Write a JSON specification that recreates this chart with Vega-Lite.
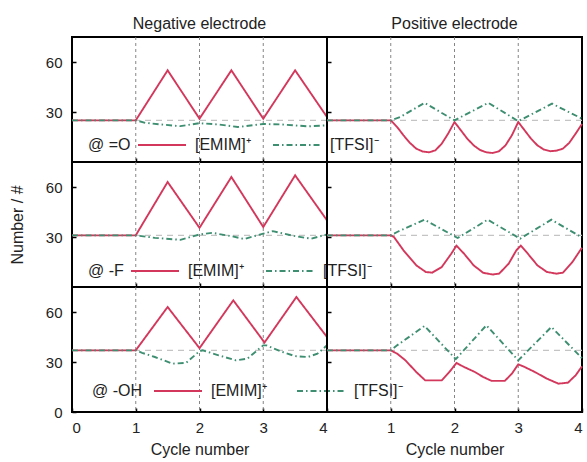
{
"$schema": "https://vega.github.io/schema/vega-lite/v6.json",
"padding": {"left": 8, "top": 14, "right": 2, "bottom": 2},
"config": {
  "font": "Liberation Sans",
  "view": {"stroke": "black", "strokeWidth": 2},
  "axis": {"labelFontSize": 15, "titleFontSize": 16, "titleFontWeight": "normal", "labelColor": "#222", "titleColor": "#222", "domain": false, "grid": false, "tickColor": "black", "tickWidth": 1.5},
  "title": {"fontSize": 16, "fontWeight": "normal", "color": "#222", "offset": 5},
  "legend": {"orient": "none", "direction": "horizontal", "titleOrient": "left", "titleAnchor": "middle", "symbolType": "stroke", "symbolSize": 2300, "symbolStrokeWidth": 2, "labelOffset": 8, "columnPadding": 18, "titlePadding": 6, "labelFontSize": 16, "titleFontSize": 16, "titleFontWeight": "normal", "labelColor": "#222", "titleColor": "#222", "titleBaseline": "top"}
},
"datasets": {
  "cycles": [{"c": 1}, {"c": 2}, {"c": 3}],
  "base": [{"g": "=O", "y": 25}, {"g": "-F", "y": 31}, {"g": "-OH", "y": 37}],
  "s": [
    {"g": "=O", "e": "neg", "ion": "[EMIM]⁺", "x": 0, "y": 25}, {"g": "=O", "e": "neg", "ion": "[EMIM]⁺", "x": 1, "y": 25}, {"g": "=O", "e": "neg", "ion": "[EMIM]⁺", "x": 1.5, "y": 55}, {"g": "=O", "e": "neg", "ion": "[EMIM]⁺", "x": 2, "y": 26}, {"g": "=O", "e": "neg", "ion": "[EMIM]⁺", "x": 2.5, "y": 55}, {"g": "=O", "e": "neg", "ion": "[EMIM]⁺", "x": 3, "y": 26}, {"g": "=O", "e": "neg", "ion": "[EMIM]⁺", "x": 3.5, "y": 55}, {"g": "=O", "e": "neg", "ion": "[EMIM]⁺", "x": 4, "y": 27},
    {"g": "=O", "e": "neg", "ion": "[TFSI]⁻", "x": 0, "y": 25}, {"g": "=O", "e": "neg", "ion": "[TFSI]⁻", "x": 1, "y": 25}, {"g": "=O", "e": "neg", "ion": "[TFSI]⁻", "x": 1.15, "y": 23.5}, {"g": "=O", "e": "neg", "ion": "[TFSI]⁻", "x": 1.4, "y": 22.5}, {"g": "=O", "e": "neg", "ion": "[TFSI]⁻", "x": 1.7, "y": 21.5}, {"g": "=O", "e": "neg", "ion": "[TFSI]⁻", "x": 2, "y": 23.3}, {"g": "=O", "e": "neg", "ion": "[TFSI]⁻", "x": 2.3, "y": 22.5}, {"g": "=O", "e": "neg", "ion": "[TFSI]⁻", "x": 2.6, "y": 21}, {"g": "=O", "e": "neg", "ion": "[TFSI]⁻", "x": 3, "y": 22.8}, {"g": "=O", "e": "neg", "ion": "[TFSI]⁻", "x": 3.3, "y": 22.5}, {"g": "=O", "e": "neg", "ion": "[TFSI]⁻", "x": 3.7, "y": 21.4}, {"g": "=O", "e": "neg", "ion": "[TFSI]⁻", "x": 4, "y": 22},
    {"g": "=O", "e": "pos", "ion": "[EMIM]⁺", "x": 0, "y": 25}, {"g": "=O", "e": "pos", "ion": "[EMIM]⁺", "x": 1, "y": 25}, {"g": "=O", "e": "pos", "ion": "[EMIM]⁺", "x": 1.1, "y": 21}, {"g": "=O", "e": "pos", "ion": "[EMIM]⁺", "x": 1.2, "y": 16}, {"g": "=O", "e": "pos", "ion": "[EMIM]⁺", "x": 1.3, "y": 11.5}, {"g": "=O", "e": "pos", "ion": "[EMIM]⁺", "x": 1.4, "y": 8}, {"g": "=O", "e": "pos", "ion": "[EMIM]⁺", "x": 1.5, "y": 6.3}, {"g": "=O", "e": "pos", "ion": "[EMIM]⁺", "x": 1.6, "y": 5.8}, {"g": "=O", "e": "pos", "ion": "[EMIM]⁺", "x": 1.7, "y": 7}, {"g": "=O", "e": "pos", "ion": "[EMIM]⁺", "x": 1.8, "y": 11}, {"g": "=O", "e": "pos", "ion": "[EMIM]⁺", "x": 1.9, "y": 17}, {"g": "=O", "e": "pos", "ion": "[EMIM]⁺", "x": 2, "y": 24}, {"g": "=O", "e": "pos", "ion": "[EMIM]⁺", "x": 2.1, "y": 19}, {"g": "=O", "e": "pos", "ion": "[EMIM]⁺", "x": 2.2, "y": 14}, {"g": "=O", "e": "pos", "ion": "[EMIM]⁺", "x": 2.3, "y": 10}, {"g": "=O", "e": "pos", "ion": "[EMIM]⁺", "x": 2.4, "y": 7.2}, {"g": "=O", "e": "pos", "ion": "[EMIM]⁺", "x": 2.5, "y": 5.8}, {"g": "=O", "e": "pos", "ion": "[EMIM]⁺", "x": 2.6, "y": 5.4}, {"g": "=O", "e": "pos", "ion": "[EMIM]⁺", "x": 2.7, "y": 6.5}, {"g": "=O", "e": "pos", "ion": "[EMIM]⁺", "x": 2.8, "y": 10}, {"g": "=O", "e": "pos", "ion": "[EMIM]⁺", "x": 2.9, "y": 16}, {"g": "=O", "e": "pos", "ion": "[EMIM]⁺", "x": 3, "y": 24}, {"g": "=O", "e": "pos", "ion": "[EMIM]⁺", "x": 3.1, "y": 19}, {"g": "=O", "e": "pos", "ion": "[EMIM]⁺", "x": 3.2, "y": 14}, {"g": "=O", "e": "pos", "ion": "[EMIM]⁺", "x": 3.3, "y": 10}, {"g": "=O", "e": "pos", "ion": "[EMIM]⁺", "x": 3.4, "y": 7.5}, {"g": "=O", "e": "pos", "ion": "[EMIM]⁺", "x": 3.5, "y": 6.5}, {"g": "=O", "e": "pos", "ion": "[EMIM]⁺", "x": 3.6, "y": 6.8}, {"g": "=O", "e": "pos", "ion": "[EMIM]⁺", "x": 3.7, "y": 8}, {"g": "=O", "e": "pos", "ion": "[EMIM]⁺", "x": 3.8, "y": 11.5}, {"g": "=O", "e": "pos", "ion": "[EMIM]⁺", "x": 3.9, "y": 17}, {"g": "=O", "e": "pos", "ion": "[EMIM]⁺", "x": 4, "y": 22.8},
    {"g": "=O", "e": "pos", "ion": "[TFSI]⁻", "x": 0, "y": 25}, {"g": "=O", "e": "pos", "ion": "[TFSI]⁻", "x": 1, "y": 25}, {"g": "=O", "e": "pos", "ion": "[TFSI]⁻", "x": 1.15, "y": 27}, {"g": "=O", "e": "pos", "ion": "[TFSI]⁻", "x": 1.53, "y": 35.5}, {"g": "=O", "e": "pos", "ion": "[TFSI]⁻", "x": 2, "y": 25}, {"g": "=O", "e": "pos", "ion": "[TFSI]⁻", "x": 2.53, "y": 35.5}, {"g": "=O", "e": "pos", "ion": "[TFSI]⁻", "x": 3, "y": 24.5}, {"g": "=O", "e": "pos", "ion": "[TFSI]⁻", "x": 3.53, "y": 35}, {"g": "=O", "e": "pos", "ion": "[TFSI]⁻", "x": 4, "y": 26},
    {"g": "-F", "e": "neg", "ion": "[EMIM]⁺", "x": 0, "y": 31}, {"g": "-F", "e": "neg", "ion": "[EMIM]⁺", "x": 1, "y": 31}, {"g": "-F", "e": "neg", "ion": "[EMIM]⁺", "x": 1.5, "y": 63}, {"g": "-F", "e": "neg", "ion": "[EMIM]⁺", "x": 2, "y": 35.5}, {"g": "-F", "e": "neg", "ion": "[EMIM]⁺", "x": 2.5, "y": 66}, {"g": "-F", "e": "neg", "ion": "[EMIM]⁺", "x": 3, "y": 36}, {"g": "-F", "e": "neg", "ion": "[EMIM]⁺", "x": 3.5, "y": 67}, {"g": "-F", "e": "neg", "ion": "[EMIM]⁺", "x": 4, "y": 40},
    {"g": "-F", "e": "neg", "ion": "[TFSI]⁻", "x": 0, "y": 31}, {"g": "-F", "e": "neg", "ion": "[TFSI]⁻", "x": 1, "y": 31}, {"g": "-F", "e": "neg", "ion": "[TFSI]⁻", "x": 1.3, "y": 29.5}, {"g": "-F", "e": "neg", "ion": "[TFSI]⁻", "x": 1.7, "y": 28.3}, {"g": "-F", "e": "neg", "ion": "[TFSI]⁻", "x": 2, "y": 31.5}, {"g": "-F", "e": "neg", "ion": "[TFSI]⁻", "x": 2.2, "y": 32.5}, {"g": "-F", "e": "neg", "ion": "[TFSI]⁻", "x": 2.5, "y": 30.5}, {"g": "-F", "e": "neg", "ion": "[TFSI]⁻", "x": 2.7, "y": 28.8}, {"g": "-F", "e": "neg", "ion": "[TFSI]⁻", "x": 3, "y": 32}, {"g": "-F", "e": "neg", "ion": "[TFSI]⁻", "x": 3.15, "y": 33.5}, {"g": "-F", "e": "neg", "ion": "[TFSI]⁻", "x": 3.5, "y": 30.5}, {"g": "-F", "e": "neg", "ion": "[TFSI]⁻", "x": 3.75, "y": 29}, {"g": "-F", "e": "neg", "ion": "[TFSI]⁻", "x": 4, "y": 31.5},
    {"g": "-F", "e": "pos", "ion": "[EMIM]⁺", "x": 0, "y": 31}, {"g": "-F", "e": "pos", "ion": "[EMIM]⁺", "x": 1, "y": 31}, {"g": "-F", "e": "pos", "ion": "[EMIM]⁺", "x": 1.05, "y": 30}, {"g": "-F", "e": "pos", "ion": "[EMIM]⁺", "x": 1.2, "y": 22}, {"g": "-F", "e": "pos", "ion": "[EMIM]⁺", "x": 1.4, "y": 13}, {"g": "-F", "e": "pos", "ion": "[EMIM]⁺", "x": 1.55, "y": 9}, {"g": "-F", "e": "pos", "ion": "[EMIM]⁺", "x": 1.65, "y": 8.6}, {"g": "-F", "e": "pos", "ion": "[EMIM]⁺", "x": 1.8, "y": 12}, {"g": "-F", "e": "pos", "ion": "[EMIM]⁺", "x": 1.95, "y": 20}, {"g": "-F", "e": "pos", "ion": "[EMIM]⁺", "x": 2.03, "y": 24.8}, {"g": "-F", "e": "pos", "ion": "[EMIM]⁺", "x": 2.15, "y": 20}, {"g": "-F", "e": "pos", "ion": "[EMIM]⁺", "x": 2.3, "y": 13}, {"g": "-F", "e": "pos", "ion": "[EMIM]⁺", "x": 2.45, "y": 8.5}, {"g": "-F", "e": "pos", "ion": "[EMIM]⁺", "x": 2.6, "y": 7.5}, {"g": "-F", "e": "pos", "ion": "[EMIM]⁺", "x": 2.7, "y": 8}, {"g": "-F", "e": "pos", "ion": "[EMIM]⁺", "x": 2.85, "y": 14}, {"g": "-F", "e": "pos", "ion": "[EMIM]⁺", "x": 2.97, "y": 22}, {"g": "-F", "e": "pos", "ion": "[EMIM]⁺", "x": 3.04, "y": 24.8}, {"g": "-F", "e": "pos", "ion": "[EMIM]⁺", "x": 3.15, "y": 20}, {"g": "-F", "e": "pos", "ion": "[EMIM]⁺", "x": 3.3, "y": 13}, {"g": "-F", "e": "pos", "ion": "[EMIM]⁺", "x": 3.45, "y": 9}, {"g": "-F", "e": "pos", "ion": "[EMIM]⁺", "x": 3.6, "y": 8}, {"g": "-F", "e": "pos", "ion": "[EMIM]⁺", "x": 3.7, "y": 8.6}, {"g": "-F", "e": "pos", "ion": "[EMIM]⁺", "x": 3.85, "y": 15}, {"g": "-F", "e": "pos", "ion": "[EMIM]⁺", "x": 4, "y": 23.6},
    {"g": "-F", "e": "pos", "ion": "[TFSI]⁻", "x": 0, "y": 31}, {"g": "-F", "e": "pos", "ion": "[TFSI]⁻", "x": 1, "y": 31}, {"g": "-F", "e": "pos", "ion": "[TFSI]⁻", "x": 1.1, "y": 33}, {"g": "-F", "e": "pos", "ion": "[TFSI]⁻", "x": 1.53, "y": 40.4}, {"g": "-F", "e": "pos", "ion": "[TFSI]⁻", "x": 2.05, "y": 29.4}, {"g": "-F", "e": "pos", "ion": "[TFSI]⁻", "x": 2.52, "y": 40.4}, {"g": "-F", "e": "pos", "ion": "[TFSI]⁻", "x": 3.03, "y": 29}, {"g": "-F", "e": "pos", "ion": "[TFSI]⁻", "x": 3.52, "y": 40.4}, {"g": "-F", "e": "pos", "ion": "[TFSI]⁻", "x": 4, "y": 29.7},
    {"g": "-OH", "e": "neg", "ion": "[EMIM]⁺", "x": 0, "y": 37}, {"g": "-OH", "e": "neg", "ion": "[EMIM]⁺", "x": 1, "y": 37}, {"g": "-OH", "e": "neg", "ion": "[EMIM]⁺", "x": 1.5, "y": 63}, {"g": "-OH", "e": "neg", "ion": "[EMIM]⁺", "x": 2, "y": 38.3}, {"g": "-OH", "e": "neg", "ion": "[EMIM]⁺", "x": 2.53, "y": 67}, {"g": "-OH", "e": "neg", "ion": "[EMIM]⁺", "x": 3.02, "y": 41.7}, {"g": "-OH", "e": "neg", "ion": "[EMIM]⁺", "x": 3.52, "y": 69}, {"g": "-OH", "e": "neg", "ion": "[EMIM]⁺", "x": 4, "y": 45},
    {"g": "-OH", "e": "neg", "ion": "[TFSI]⁻", "x": 0, "y": 37}, {"g": "-OH", "e": "neg", "ion": "[TFSI]⁻", "x": 1, "y": 37}, {"g": "-OH", "e": "neg", "ion": "[TFSI]⁻", "x": 1.1, "y": 35.5}, {"g": "-OH", "e": "neg", "ion": "[TFSI]⁻", "x": 1.3, "y": 33}, {"g": "-OH", "e": "neg", "ion": "[TFSI]⁻", "x": 1.58, "y": 29}, {"g": "-OH", "e": "neg", "ion": "[TFSI]⁻", "x": 1.79, "y": 29.5}, {"g": "-OH", "e": "neg", "ion": "[TFSI]⁻", "x": 2, "y": 36.5}, {"g": "-OH", "e": "neg", "ion": "[TFSI]⁻", "x": 2.05, "y": 37}, {"g": "-OH", "e": "neg", "ion": "[TFSI]⁻", "x": 2.3, "y": 34}, {"g": "-OH", "e": "neg", "ion": "[TFSI]⁻", "x": 2.57, "y": 31}, {"g": "-OH", "e": "neg", "ion": "[TFSI]⁻", "x": 2.75, "y": 32}, {"g": "-OH", "e": "neg", "ion": "[TFSI]⁻", "x": 3, "y": 40}, {"g": "-OH", "e": "neg", "ion": "[TFSI]⁻", "x": 3.05, "y": 40}, {"g": "-OH", "e": "neg", "ion": "[TFSI]⁻", "x": 3.3, "y": 36}, {"g": "-OH", "e": "neg", "ion": "[TFSI]⁻", "x": 3.5, "y": 33.5}, {"g": "-OH", "e": "neg", "ion": "[TFSI]⁻", "x": 3.7, "y": 33}, {"g": "-OH", "e": "neg", "ion": "[TFSI]⁻", "x": 3.85, "y": 35}, {"g": "-OH", "e": "neg", "ion": "[TFSI]⁻", "x": 4, "y": 40},
    {"g": "-OH", "e": "pos", "ion": "[EMIM]⁺", "x": 0, "y": 37}, {"g": "-OH", "e": "pos", "ion": "[EMIM]⁺", "x": 1, "y": 37}, {"g": "-OH", "e": "pos", "ion": "[EMIM]⁺", "x": 1.1, "y": 35}, {"g": "-OH", "e": "pos", "ion": "[EMIM]⁺", "x": 1.23, "y": 31}, {"g": "-OH", "e": "pos", "ion": "[EMIM]⁺", "x": 1.4, "y": 24}, {"g": "-OH", "e": "pos", "ion": "[EMIM]⁺", "x": 1.54, "y": 19}, {"g": "-OH", "e": "pos", "ion": "[EMIM]⁺", "x": 1.8, "y": 19}, {"g": "-OH", "e": "pos", "ion": "[EMIM]⁺", "x": 1.92, "y": 24}, {"g": "-OH", "e": "pos", "ion": "[EMIM]⁺", "x": 2.03, "y": 29.4}, {"g": "-OH", "e": "pos", "ion": "[EMIM]⁺", "x": 2.15, "y": 27}, {"g": "-OH", "e": "pos", "ion": "[EMIM]⁺", "x": 2.32, "y": 24}, {"g": "-OH", "e": "pos", "ion": "[EMIM]⁺", "x": 2.45, "y": 21}, {"g": "-OH", "e": "pos", "ion": "[EMIM]⁺", "x": 2.58, "y": 18.7}, {"g": "-OH", "e": "pos", "ion": "[EMIM]⁺", "x": 2.79, "y": 18.7}, {"g": "-OH", "e": "pos", "ion": "[EMIM]⁺", "x": 2.9, "y": 23}, {"g": "-OH", "e": "pos", "ion": "[EMIM]⁺", "x": 3, "y": 28.6}, {"g": "-OH", "e": "pos", "ion": "[EMIM]⁺", "x": 3.1, "y": 27}, {"g": "-OH", "e": "pos", "ion": "[EMIM]⁺", "x": 3.26, "y": 24}, {"g": "-OH", "e": "pos", "ion": "[EMIM]⁺", "x": 3.45, "y": 20}, {"g": "-OH", "e": "pos", "ion": "[EMIM]⁺", "x": 3.63, "y": 17}, {"g": "-OH", "e": "pos", "ion": "[EMIM]⁺", "x": 3.78, "y": 17.6}, {"g": "-OH", "e": "pos", "ion": "[EMIM]⁺", "x": 3.9, "y": 22}, {"g": "-OH", "e": "pos", "ion": "[EMIM]⁺", "x": 4, "y": 27.4},
    {"g": "-OH", "e": "pos", "ion": "[TFSI]⁻", "x": 0, "y": 37}, {"g": "-OH", "e": "pos", "ion": "[TFSI]⁻", "x": 1, "y": 37}, {"g": "-OH", "e": "pos", "ion": "[TFSI]⁻", "x": 1.1, "y": 40}, {"g": "-OH", "e": "pos", "ion": "[TFSI]⁻", "x": 1.53, "y": 51.6}, {"g": "-OH", "e": "pos", "ion": "[TFSI]⁻", "x": 2.02, "y": 31.7}, {"g": "-OH", "e": "pos", "ion": "[TFSI]⁻", "x": 2.5, "y": 52}, {"g": "-OH", "e": "pos", "ion": "[TFSI]⁻", "x": 3, "y": 31}, {"g": "-OH", "e": "pos", "ion": "[TFSI]⁻", "x": 3.52, "y": 51}, {"g": "-OH", "e": "pos", "ion": "[TFSI]⁻", "x": 4, "y": 32.3}
  ]
},
"columns": 2,
"spacing": 0,
"bounds": "flush",
"resolve": {"scale": {"color": "independent", "strokeDash": "independent"}, "legend": {"color": "independent", "strokeDash": "independent"}},
"concat": [
    {"width": 255, "height": 125, "title": "Negative electrode",
     "layer": [
      {"data": {"name": "base"}, "transform": [{"filter": "datum.g === '=O'"}], "mark": {"type": "rule", "color": "#c4c4c4", "strokeDash": [6, 5], "strokeWidth": 1.3}, "encoding": {"y": {"field": "y", "type": "quantitative", "scale": {"domain": [0, 75], "nice": false}, "axis": {"values": [30, 60], "title": null, "tickSize": -4, "labelPadding": 14}}}},
      {"data": {"name": "cycles"}, "mark": {"type": "rule", "color": "#777", "strokeDash": [3, 3], "strokeWidth": 0.9}, "encoding": {"x": {"field": "c", "type": "quantitative", "scale": {"domain": [0, 4], "nice": false}, "axis": {"values": [1, 2, 3], "labels": false, "title": null, "tickSize": -4}}}},
      {"data": {"name": "s"}, "transform": [{"filter": "datum.g === '=O' && datum.e === 'neg'"}], "mark": {"type": "line", "strokeWidth": 1.9},
       "encoding": {
        "x": {"field": "x", "type": "quantitative", "scale": {"domain": [0, 4], "nice": false}, "axis": {"values": [1, 2, 3], "labels": false, "title": null, "tickSize": -4}},
        "y": {"field": "y", "type": "quantitative", "scale": {"domain": [0, 75], "nice": false}, "axis": {"values": [30, 60], "title": null, "tickSize": -4, "labelPadding": 14}},
        "color": {"field": "ion", "type": "nominal", "scale": {"domain": ["[EMIM]⁺", "[TFSI]⁻"], "range": ["#d3385c", "#3e8f72"]}, "legend": {"title": "@ =O", "legendX": 16, "legendY": 83}},
        "strokeDash": {"field": "ion", "type": "nominal", "scale": {"domain": ["[EMIM]⁺", "[TFSI]⁻"], "range": [[1, 0], [6, 3, 1.5, 3]]}, "legend": {"title": "@ =O", "legendX": 16, "legendY": 83}},
        "order": {"field": "x", "type": "quantitative"}
       }}
     ]},
    {"width": 255, "height": 125, "title": "Positive electrode",
     "layer": [
      {"data": {"name": "base"}, "transform": [{"filter": "datum.g === '=O'"}], "mark": {"type": "rule", "color": "#c4c4c4", "strokeDash": [6, 5], "strokeWidth": 1.3}, "encoding": {"y": {"field": "y", "type": "quantitative", "scale": {"domain": [0, 75], "nice": false}, "axis": {"values": [30, 60], "labels": false, "title": null, "tickSize": -4}}}},
      {"data": {"name": "cycles"}, "mark": {"type": "rule", "color": "#777", "strokeDash": [3, 3], "strokeWidth": 0.9}, "encoding": {"x": {"field": "c", "type": "quantitative", "scale": {"domain": [0, 4], "nice": false}, "axis": {"values": [1, 2, 3], "labels": false, "title": null, "tickSize": -4}}}},
      {"data": {"name": "s"}, "transform": [{"filter": "datum.g === '=O' && datum.e === 'pos'"}], "mark": {"type": "line", "strokeWidth": 1.9},
       "encoding": {
        "x": {"field": "x", "type": "quantitative", "scale": {"domain": [0, 4], "nice": false}, "axis": {"values": [1, 2, 3], "labels": false, "title": null, "tickSize": -4}},
        "y": {"field": "y", "type": "quantitative", "scale": {"domain": [0, 75], "nice": false}, "axis": {"values": [30, 60], "labels": false, "title": null, "tickSize": -4}},
        "color": {"field": "ion", "type": "nominal", "scale": {"domain": ["[EMIM]⁺", "[TFSI]⁻"], "range": ["#d3385c", "#3e8f72"]}, "legend": null},
        "strokeDash": {"field": "ion", "type": "nominal", "scale": {"domain": ["[EMIM]⁺", "[TFSI]⁻"], "range": [[1, 0], [6, 3, 1.5, 3]]}, "legend": null},
        "order": {"field": "x", "type": "quantitative"}
       }}
     ]},
    {"width": 255, "height": 125,
     "layer": [
      {"data": {"name": "base"}, "transform": [{"filter": "datum.g === '-F'"}], "mark": {"type": "rule", "color": "#c4c4c4", "strokeDash": [6, 5], "strokeWidth": 1.3}, "encoding": {"y": {"field": "y", "type": "quantitative", "scale": {"domain": [0, 75], "nice": false}, "axis": {"values": [30, 60], "title": "Number / #", "titlePadding": 20, "tickSize": -4, "labelPadding": 14}}}},
      {"data": {"name": "cycles"}, "mark": {"type": "rule", "color": "#777", "strokeDash": [3, 3], "strokeWidth": 0.9}, "encoding": {"x": {"field": "c", "type": "quantitative", "scale": {"domain": [0, 4], "nice": false}, "axis": {"values": [1, 2, 3], "labels": false, "title": null, "tickSize": -4}}}},
      {"data": {"name": "s"}, "transform": [{"filter": "datum.g === '-F' && datum.e === 'neg'"}], "mark": {"type": "line", "strokeWidth": 1.9},
       "encoding": {
        "x": {"field": "x", "type": "quantitative", "scale": {"domain": [0, 4], "nice": false}, "axis": {"values": [1, 2, 3], "labels": false, "title": null, "tickSize": -4}},
        "y": {"field": "y", "type": "quantitative", "scale": {"domain": [0, 75], "nice": false}, "axis": {"values": [30, 60], "title": "Number / #", "titlePadding": 20, "tickSize": -4, "labelPadding": 14}},
        "color": {"field": "ion", "type": "nominal", "scale": {"domain": ["[EMIM]⁺", "[TFSI]⁻"], "range": ["#d3385c", "#3e8f72"]}, "legend": {"title": "@ -F", "legendX": 16, "legendY": 84}},
        "strokeDash": {"field": "ion", "type": "nominal", "scale": {"domain": ["[EMIM]⁺", "[TFSI]⁻"], "range": [[1, 0], [6, 3, 1.5, 3]]}, "legend": {"title": "@ -F", "legendX": 16, "legendY": 84}},
        "order": {"field": "x", "type": "quantitative"}
       }}
     ]},
    {"width": 255, "height": 125,
     "layer": [
      {"data": {"name": "base"}, "transform": [{"filter": "datum.g === '-F'"}], "mark": {"type": "rule", "color": "#c4c4c4", "strokeDash": [6, 5], "strokeWidth": 1.3}, "encoding": {"y": {"field": "y", "type": "quantitative", "scale": {"domain": [0, 75], "nice": false}, "axis": {"values": [30, 60], "labels": false, "title": null, "tickSize": -4}}}},
      {"data": {"name": "cycles"}, "mark": {"type": "rule", "color": "#777", "strokeDash": [3, 3], "strokeWidth": 0.9}, "encoding": {"x": {"field": "c", "type": "quantitative", "scale": {"domain": [0, 4], "nice": false}, "axis": {"values": [1, 2, 3], "labels": false, "title": null, "tickSize": -4}}}},
      {"data": {"name": "s"}, "transform": [{"filter": "datum.g === '-F' && datum.e === 'pos'"}], "mark": {"type": "line", "strokeWidth": 1.9},
       "encoding": {
        "x": {"field": "x", "type": "quantitative", "scale": {"domain": [0, 4], "nice": false}, "axis": {"values": [1, 2, 3], "labels": false, "title": null, "tickSize": -4}},
        "y": {"field": "y", "type": "quantitative", "scale": {"domain": [0, 75], "nice": false}, "axis": {"values": [30, 60], "labels": false, "title": null, "tickSize": -4}},
        "color": {"field": "ion", "type": "nominal", "scale": {"domain": ["[EMIM]⁺", "[TFSI]⁻"], "range": ["#d3385c", "#3e8f72"]}, "legend": null},
        "strokeDash": {"field": "ion", "type": "nominal", "scale": {"domain": ["[EMIM]⁺", "[TFSI]⁻"], "range": [[1, 0], [6, 3, 1.5, 3]]}, "legend": null},
        "order": {"field": "x", "type": "quantitative"}
       }}
     ]},
    {"width": 255, "height": 125,
     "layer": [
      {"data": {"name": "base"}, "transform": [{"filter": "datum.g === '-OH'"}], "mark": {"type": "rule", "color": "#c4c4c4", "strokeDash": [6, 5], "strokeWidth": 1.3}, "encoding": {"y": {"field": "y", "type": "quantitative", "scale": {"domain": [0, 75], "nice": false}, "axis": {"values": [0, 30, 60], "title": null, "tickSize": -4, "labelPadding": 14}}}},
      {"data": {"name": "cycles"}, "mark": {"type": "rule", "color": "#777", "strokeDash": [3, 3], "strokeWidth": 0.9}, "encoding": {"x": {"field": "c", "type": "quantitative", "scale": {"domain": [0, 4], "nice": false}, "axis": {"values": [0, 1, 2, 3, 4], "title": "Cycle number", "tickSize": -4, "labelPadding": 12, "titlePadding": 6}}}},
      {"data": {"name": "s"}, "transform": [{"filter": "datum.g === '-OH' && datum.e === 'neg'"}], "mark": {"type": "line", "strokeWidth": 1.9},
       "encoding": {
        "x": {"field": "x", "type": "quantitative", "scale": {"domain": [0, 4], "nice": false}, "axis": {"values": [0, 1, 2, 3, 4], "title": "Cycle number", "tickSize": -4, "labelPadding": 12, "titlePadding": 6}},
        "y": {"field": "y", "type": "quantitative", "scale": {"domain": [0, 75], "nice": false}, "axis": {"values": [0, 30, 60], "title": null, "tickSize": -4, "labelPadding": 14}},
        "color": {"field": "ion", "type": "nominal", "scale": {"domain": ["[EMIM]⁺", "[TFSI]⁻"], "range": ["#d3385c", "#3e8f72"]}, "legend": {"title": "@ -OH", "legendX": 20, "legendY": 79, "titlePadding": 10, "columnPadding": 26}},
        "strokeDash": {"field": "ion", "type": "nominal", "scale": {"domain": ["[EMIM]⁺", "[TFSI]⁻"], "range": [[1, 0], [6, 3, 1.5, 3]]}, "legend": {"title": "@ -OH", "legendX": 20, "legendY": 79, "titlePadding": 10, "columnPadding": 26}},
        "order": {"field": "x", "type": "quantitative"}
       }}
     ]},
    {"width": 255, "height": 125,
     "layer": [
      {"data": {"name": "base"}, "transform": [{"filter": "datum.g === '-OH'"}], "mark": {"type": "rule", "color": "#c4c4c4", "strokeDash": [6, 5], "strokeWidth": 1.3}, "encoding": {"y": {"field": "y", "type": "quantitative", "scale": {"domain": [0, 75], "nice": false}, "axis": {"values": [30, 60], "labels": false, "title": null, "tickSize": -4}}}},
      {"data": {"name": "cycles"}, "mark": {"type": "rule", "color": "#777", "strokeDash": [3, 3], "strokeWidth": 0.9}, "encoding": {"x": {"field": "c", "type": "quantitative", "scale": {"domain": [0, 4], "nice": false}, "axis": {"values": [1, 2, 3, 4], "title": "Cycle number", "tickSize": -4, "labelPadding": 12, "titlePadding": 6}}}},
      {"data": {"name": "s"}, "transform": [{"filter": "datum.g === '-OH' && datum.e === 'pos'"}], "mark": {"type": "line", "strokeWidth": 1.9},
       "encoding": {
        "x": {"field": "x", "type": "quantitative", "scale": {"domain": [0, 4], "nice": false}, "axis": {"values": [1, 2, 3, 4], "title": "Cycle number", "tickSize": -4, "labelPadding": 12, "titlePadding": 6}},
        "y": {"field": "y", "type": "quantitative", "scale": {"domain": [0, 75], "nice": false}, "axis": {"values": [30, 60], "labels": false, "title": null, "tickSize": -4}},
        "color": {"field": "ion", "type": "nominal", "scale": {"domain": ["[EMIM]⁺", "[TFSI]⁻"], "range": ["#d3385c", "#3e8f72"]}, "legend": null},
        "strokeDash": {"field": "ion", "type": "nominal", "scale": {"domain": ["[EMIM]⁺", "[TFSI]⁻"], "range": [[1, 0], [6, 3, 1.5, 3]]}, "legend": null},
        "order": {"field": "x", "type": "quantitative"}
       }}
     ]}
]
}
